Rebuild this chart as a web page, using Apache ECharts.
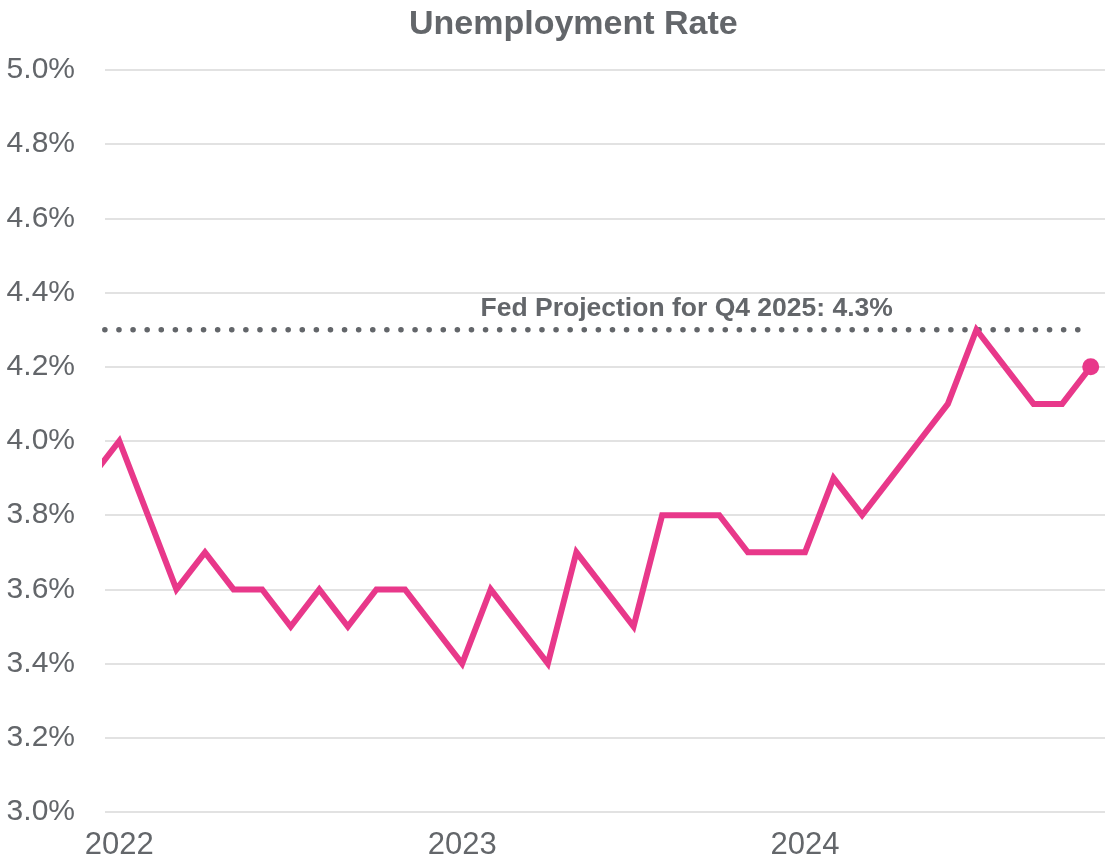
<!DOCTYPE html>
<html>
<head>
<meta charset="utf-8">
<style>
  html, body { margin: 0; padding: 0; background: #fff; }
  #chart { width: 1107px; height: 864px; }
</style>
<script src="https://cdn.jsdelivr.net/npm/echarts@6/dist/echarts.min.js"></script>
</head>
<body>
<div id="chart"></div>
<script>
// Monthly unemployment rate, Dec 2021 – Nov 2024 (%)
const months = [
  '2021-12',
  '2022-01','2022-02','2022-03','2022-04','2022-05','2022-06','2022-07','2022-08','2022-09','2022-10','2022-11','2022-12',
  '2023-01','2023-02','2023-03','2023-04','2023-05','2023-06','2023-07','2023-08','2023-09','2023-10','2023-11','2023-12',
  '2024-01','2024-02','2024-03','2024-04','2024-05','2024-06','2024-07','2024-08','2024-09','2024-10','2024-11'
];
const rates = [
  3.9,
  4.0, 3.8, 3.6, 3.7, 3.6, 3.6, 3.5, 3.6, 3.5, 3.6, 3.6, 3.5,
  3.4, 3.6, 3.5, 3.4, 3.7, 3.6, 3.5, 3.8, 3.8, 3.8, 3.7, 3.7,
  3.7, 3.9, 3.8, 3.9, 4.0, 4.1, 4.3, 4.2, 4.1, 4.1, 4.2
];
const yearLabels = ['2022', '2023', '2024'];
const fedProjection = 4.3;
const fedLabel = 'Fed Projection for Q4 2025: 4.3%';
const fedLabelMonth = '2023-09';

// x position = months since Jan 2022
const startIdx = months.indexOf('2022-01');
const xOf = m => months.indexOf(m) - startIdx;
const yearTicks = yearLabels.map(y => xOf(y + '-01'));

const rateData = months.map((m, i) => [xOf(m), rates[i]]);
const lastPoint = rateData[rateData.length - 1];
const fedData = months.map(m => [xOf(m), fedProjection]);

const textColor = '#63666a';
const fontFamily = 'Liberation Sans, Arial, sans-serif';
const chart = echarts.init(document.getElementById('chart'));
chart.setOption({
  animation: false,
  backgroundColor: '#ffffff',
  title: {
    text: 'Unemployment Rate',
    left: 404,
    top: 3,
    textStyle: { color: textColor, fontSize: 34, fontWeight: 'bold', fontFamily }
  },
  grid: { left: 105, right: 2, top: 70, bottom: 52, containLabel: false },
  xAxis: {
    type: 'value',
    min: -0.5,
    max: xOf(months[months.length - 1]) + 0.5,
    axisLine: { show: false },
    axisTick: { show: false },
    splitLine: { show: false },
    axisLabel: {
      customValues: yearTicks,
      formatter: v => yearLabels[yearTicks.indexOf(v)] || '',
      color: textColor,
      fontSize: 31,
      margin: 18,
      fontFamily
    }
  },
  yAxis: {
    type: 'value',
    min: 3.0,
    max: 5.0,
    interval: 0.2,
    axisLine: { show: false },
    axisTick: { show: false },
    splitLine: { lineStyle: { color: '#e2e2e2', width: 2 } },
    axisLabel: {
      formatter: v => v.toFixed(1) + '%',
      color: textColor,
      fontSize: 30,
      margin: 30,
      fontFamily
    }
  },
  series: [
    {
      name: 'Fed Projection',
      type: 'line',
      data: fedData,
      symbol: 'none',
      clip: true,
      z: 2,
      lineStyle: { color: '#63666a', width: 5.5, type: [0.1, 14], cap: 'round' }
    },
    {
      // caption above the projection line
      name: 'Fed Projection Label',
      type: 'scatter',
      data: [[xOf(fedLabelMonth), fedProjection]],
      symbolSize: 0,
      silent: true,
      z: 5,
      itemStyle: { opacity: 1 },
      label: {
        show: true,
        position: 'top',
        distance: 8,
        offset: [-4, 0],
        formatter: fedLabel,
        color: textColor,
        fontSize: 26.5,
        fontWeight: 'bold',
        fontFamily
      }
    },
    {
      name: 'Unemployment Rate',
      type: 'line',
      data: rateData,
      symbol: 'none',
      clip: true,
      z: 3,
      lineStyle: { color: '#e8388a', width: 6, join: 'miter' }
    },
    {
      name: 'Latest',
      type: 'scatter',
      data: [lastPoint],
      symbol: 'circle',
      symbolSize: 17,
      z: 4,
      itemStyle: { color: '#e8388a', opacity: 1 }
    }
  ]
});
</script>
</body>
</html>
